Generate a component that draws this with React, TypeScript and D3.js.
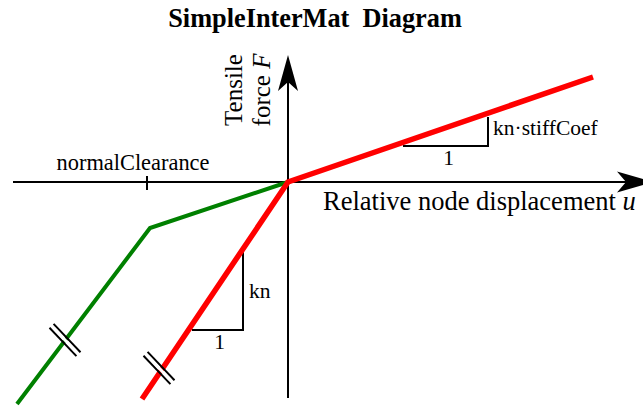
import React from "react";
import * as d3 from "d3";

const W = 643;
const H = 408;

// data (model units, origin at axes crossing)
const xDomain = [-2.75, 3.55];
const yDomain = [-2.16, 1.27];
const xAxisExtent = [-2.75, 3.65];
const yAxisExtent = [-2.16, 1.27];

const redCurve: [number, number][] = [
  [-1.46, -2.17],
  [0, 0],
  [3.05, 1.05],
];
const greenCurve: [number, number][] = [
  [-2.71, -2.22],
  [-1.38, -0.46],
  [0, 0],
];
const clearanceTick = -1.41;
const knTriangle: [number, number][] = [
  [-0.96, -1.48],
  [-0.45, -1.48],
  [-0.45, -0.7],
];
const stiffTriangle: [number, number][] = [
  [1.15, 0.36],
  [2.0, 0.36],
  [2.0, 0.65],
];
const hashMarks: [number, number][] = [
  [-2.23, -1.58],
  [-1.29, -1.86],
];

const titleText = "SimpleInterMat  Diagram";
const xLabel = "Relative node displacement ";
const xLabelVar = "u";
const yLabel1 = "Tensile";
const yLabel2 = "force ";
const yLabelVar = "F";
const clearanceLabel = "normalClearance";
const knLabel = "kn";
const stiffLabel = "kn·stiffCoef";
const oneLabel = "1";

export default function App() {
  const x = d3.scaleLinear().domain(xDomain).range([13, 643]);
  const y = d3.scaleLinear().domain(yDomain).range([398, 55]);
  const line = d3
    .line<[number, number]>()
    .x((d) => x(d[0]))
    .y((d) => y(d[1]));

  const ox = x(0);
  const oy = y(0);
  const font = "'Liberation Serif', 'Times New Roman', serif";

  // arrowheads
  const aLen = 36;
  const aHalf = 10;
  const aNotch = 9;
  const yTip = y(yAxisExtent[1]);
  const vArrow = `M${ox},${yTip} L${ox - aHalf},${yTip + aLen} L${ox},${yTip + aLen - aNotch} L${ox + aHalf},${yTip + aLen} Z`;
  const xTip = x(xAxisExtent[1]);
  const hArrow = `M${xTip},${oy} L${xTip - aLen},${oy - aHalf - 0.5} L${xTip - aLen + aNotch},${oy} L${xTip - aLen},${oy + aHalf + 0.5} Z`;

  const hashLen = 39;
  const hashGap = 5.6;
  const hdx = 0.69;
  const hdy = 0.725;

  return (
    <svg width={W} height={H} style={{ display: "block", position: "absolute", left: 0, top: 0 }}>
      <rect width={W} height={H} fill="#fff" />
      <text
        x={315}
        y={27}
        textAnchor="middle"
        fontFamily={font}
        fontWeight="bold"
        fontSize={26.3}
        style={{ whiteSpace: "pre" }}
      >
        {titleText}
      </text>

      {/* axes */}
      <line x1={x(xAxisExtent[0])} y1={oy} x2={xTip - aLen + aNotch} y2={oy} stroke="#000" strokeWidth={2} />
      <line x1={ox} y1={y(yAxisExtent[0])} x2={ox} y2={yTip + aLen - aNotch} stroke="#000" strokeWidth={2} />
      <path d={vArrow} fill="#000" />
      <path d={hArrow} fill="#000" />

      {/* tick */}
      <line x1={x(clearanceTick)} y1={oy - 6} x2={x(clearanceTick)} y2={oy + 8} stroke="#000" strokeWidth={2} />

      {/* triangles */}
      <path d={line(knTriangle) as string} fill="none" stroke="#000" strokeWidth={2} />
      <path d={line(stiffTriangle) as string} fill="none" stroke="#000" strokeWidth={2} />

      {/* curves */}
      <path d={line(greenCurve) as string} fill="none" stroke="#008000" strokeWidth={4} strokeLinejoin="miter" />
      <path d={line(redCurve) as string} fill="none" stroke="#ff0000" strokeWidth={5.5} strokeLinejoin="miter" />

      {/* hash marks */}
      {hashMarks.map((h, i) => {
        const cx = x(h[0]);
        const cy = y(h[1]);
        const nx = hdy;
        const ny = -hdx;
        return (
          <g key={i}>
            {[-1, 1].map((s) => {
              const mx = cx + (s * hashGap * nx) / 2;
              const my = cy + (s * hashGap * ny) / 2;
              return (
                <line
                  key={s}
                  x1={mx - (hdx * hashLen) / 2}
                  y1={my - (hdy * hashLen) / 2}
                  x2={mx + (hdx * hashLen) / 2}
                  y2={my + (hdy * hashLen) / 2}
                  stroke="#000"
                  strokeWidth={2}
                />
              );
            })}
            <line
              x1={cx - (hdx * (hashLen - 6)) / 2}
              y1={cy - (hdy * (hashLen - 6)) / 2}
              x2={cx + (hdx * (hashLen - 6)) / 2}
              y2={cy + (hdy * (hashLen - 6)) / 2}
              stroke="#fff"
              strokeWidth={3}
            />
          </g>
        );
      })}

      {/* labels */}
      <text x={ox + 35} y={oy + 28} fontFamily={font} fontSize={26.5} style={{ whiteSpace: "pre" }}>
        {xLabel}
        <tspan fontStyle="italic">{xLabelVar}</tspan>
      </text>
      <text
        transform={`translate(${ox - 46},${90}) rotate(-90)`}
        textAnchor="middle"
        fontFamily={font}
        fontSize={25}
      >
        {yLabel1}
      </text>
      <text
        transform={`translate(${ox - 18},${90}) rotate(-90)`}
        textAnchor="middle"
        fontFamily={font}
        fontSize={25}
        style={{ whiteSpace: "pre" }}
      >
        {yLabel2}
        <tspan fontStyle="italic">{yLabelVar}</tspan>
      </text>
      <text x={x(clearanceTick) - 14} y={oy - 12} textAnchor="middle" fontFamily={font} fontSize={22.4}>
        {clearanceLabel}
      </text>
      <text x={x(stiffTriangle[1][0]) + 5} y={y(stiffTriangle[2][1]) + 18} fontFamily={font} fontSize={21.5}>
        {stiffLabel}
      </text>
      <text
        x={(x(stiffTriangle[0][0]) + x(stiffTriangle[1][0])) / 2 + 3}
        y={y(stiffTriangle[0][1]) + 19}
        textAnchor="middle"
        fontFamily={font}
        fontSize={21.5}
      >
        {oneLabel}
      </text>
      <text x={x(knTriangle[1][0]) + 6} y={(y(knTriangle[1][1]) + y(knTriangle[2][1])) / 2 + 7} fontFamily={font} fontSize={21.5}>
        {knLabel}
      </text>
      <text
        x={(x(knTriangle[0][0]) + x(knTriangle[1][0])) / 2 + 2}
        y={y(knTriangle[0][1]) + 19}
        textAnchor="middle"
        fontFamily={font}
        fontSize={21.5}
      >
        {oneLabel}
      </text>
    </svg>
  );
}
